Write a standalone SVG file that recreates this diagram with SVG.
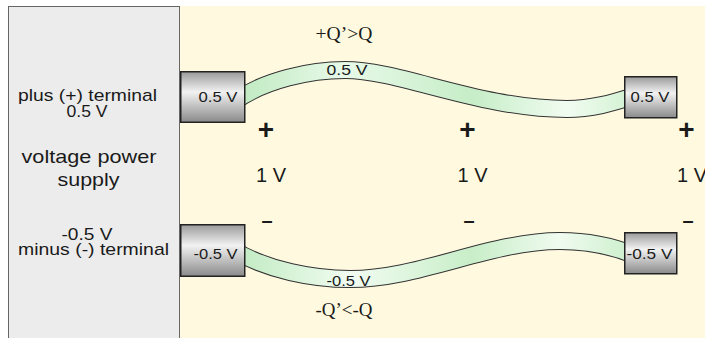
<svg xmlns="http://www.w3.org/2000/svg" width="705" height="338" viewBox="0 0 705 338">
<defs>
<linearGradient id="boxg" x1="0" y1="0" x2="0" y2="1">
<stop offset="0" stop-color="#9a9a9a"/>
<stop offset="0.4" stop-color="#f2f2f2"/>
<stop offset="1" stop-color="#8a8a8a"/>
</linearGradient>
<linearGradient id="wireTop" gradientUnits="userSpaceOnUse" x1="245" y1="0" x2="624" y2="0">
<stop offset="0" stop-color="#c2ebc3"/>
<stop offset="0.26" stop-color="#e8f9e8"/>
<stop offset="0.6" stop-color="#c6edc7"/>
<stop offset="0.85" stop-color="#f1fcf1"/>
<stop offset="1" stop-color="#d6f3d6"/>
</linearGradient>
<linearGradient id="wireBot" gradientUnits="userSpaceOnUse" x1="245" y1="0" x2="624" y2="0">
<stop offset="0" stop-color="#c4ecc5"/>
<stop offset="0.28" stop-color="#f1fcf1"/>
<stop offset="0.6" stop-color="#c8eec8"/>
<stop offset="0.83" stop-color="#f0fbf0"/>
<stop offset="1" stop-color="#d0f0d0"/>
</linearGradient>
</defs>
<style>
.sans{font-family:"Liberation Sans",Arial,sans-serif;fill:#1a1a1a}
.serif{font-family:"Liberation Serif","Times New Roman",serif;fill:#1a1a1a}
.lbl{font-size:17px}
.big{font-size:19px}
.bx{font-size:15px}
.sign{font-family:"Liberation Sans",Arial,sans-serif;font-weight:bold;fill:#1a1a1a}
.box{fill:url(#boxg);stroke:#222;stroke-width:1.5}
.wout{fill:none;stroke:#333;stroke-width:18}
</style>
<rect x="0" y="0" width="705" height="338" fill="#ffffff"/>
<rect id="field" x="180" y="6" width="525" height="332" fill="#fffadf"/>
<g id="power-supply">
<rect x="8.5" y="6.5" width="171" height="340" fill="#ececec" stroke="#666" stroke-width="1"/>
<text class="sans lbl" x="87.5" y="101" text-anchor="middle" textLength="139" lengthAdjust="spacingAndGlyphs">plus (+) terminal</text>
<text class="sans lbl" x="87" y="117" text-anchor="middle" textLength="41" lengthAdjust="spacingAndGlyphs">0.5 V</text>
<text class="sans big" x="89" y="163" text-anchor="middle" textLength="135" lengthAdjust="spacingAndGlyphs">voltage power</text>
<text class="sans big" x="88.5" y="186" text-anchor="middle" textLength="62" lengthAdjust="spacingAndGlyphs">supply</text>
<text class="sans lbl" x="87" y="240" text-anchor="middle" textLength="51" lengthAdjust="spacingAndGlyphs">-0.5 V</text>
<text class="sans lbl" x="93.5" y="255" text-anchor="middle" textLength="151" lengthAdjust="spacingAndGlyphs">minus (-) terminal</text>
</g>
<g id="connectors">
<g id="wire-top">
<path class="wout" d="M235,101 C265,80 310,70 345,70 C400,70 480,109 567,109 C592,109 612,103 634,96"/>
<path d="M235,101 C265,80 310,70 345,70 C400,70 480,109 567,109 C592,109 612,103 634,96" fill="none" stroke="url(#wireTop)" stroke-width="16"/>
<text class="sans bx" x="347" y="75" text-anchor="middle" textLength="41" lengthAdjust="spacingAndGlyphs">0.5 V</text>
</g>
<g id="wire-bottom">
<path class="wout" d="M235,251 C268,270 312,279 350,279 C420,279 490,241 560,241 C590,241 612,246 634,255"/>
<path d="M235,251 C268,270 312,279 350,279 C420,279 490,241 560,241 C590,241 612,246 634,255" fill="none" stroke="url(#wireBot)" stroke-width="16"/>
<text class="sans bx" x="348.5" y="286" text-anchor="middle" textLength="44" lengthAdjust="spacingAndGlyphs">-0.5 V</text>
</g>
</g>
<g id="box-left-plus">
<rect class="box" x="180.75" y="71.75" width="64" height="50.5"/>
<text class="sans bx" x="218" y="102" text-anchor="middle" textLength="39" lengthAdjust="spacingAndGlyphs">0.5 V</text>
</g>
<g id="box-left-minus">
<rect class="box" x="180.75" y="224.75" width="64" height="51.5"/>
<text class="sans bx" x="215.5" y="259" text-anchor="middle" textLength="44" lengthAdjust="spacingAndGlyphs">-0.5 V</text>
</g>
<g id="box-right-plus">
<rect class="box" x="624.75" y="76.75" width="52" height="41"/>
<text class="sans bx" x="650" y="102" text-anchor="middle" textLength="39" lengthAdjust="spacingAndGlyphs">0.5 V</text>
</g>
<g id="box-right-minus">
<rect class="box" x="624.75" y="232.75" width="52" height="41"/>
<text class="sans bx" x="649.5" y="259" text-anchor="middle" textLength="46" lengthAdjust="spacingAndGlyphs">-0.5 V</text>
</g>
<g id="signs">
<text class="sign" x="266" y="139" font-size="28" text-anchor="middle">+</text>
<text class="sign" x="467.5" y="139" font-size="28" text-anchor="middle">+</text>
<text class="sign" x="686.5" y="139" font-size="28" text-anchor="middle">+</text>
<text class="sign" x="267" y="227" font-size="20" text-anchor="middle">–</text>
<text class="sign" x="469" y="227" font-size="20" text-anchor="middle">–</text>
<text class="sign" x="688" y="227" font-size="20" text-anchor="middle">–</text>
</g>
<g id="volt-labels">
<text class="sans" font-size="20" x="271" y="182" text-anchor="middle">1 V</text>
<text class="sans" font-size="20" x="472.5" y="182" text-anchor="middle">1 V</text>
<text class="sans" font-size="20" x="692" y="182" text-anchor="middle">1 V</text>
</g>
<g id="charges">
<text class="serif" font-size="18" x="344" y="40" text-anchor="middle" textLength="57" lengthAdjust="spacingAndGlyphs">+Q’&gt;Q</text>
<text class="serif" font-size="18" x="344" y="316" text-anchor="middle" textLength="57" lengthAdjust="spacingAndGlyphs">-Q’&lt;-Q</text>
</g>
</svg>
